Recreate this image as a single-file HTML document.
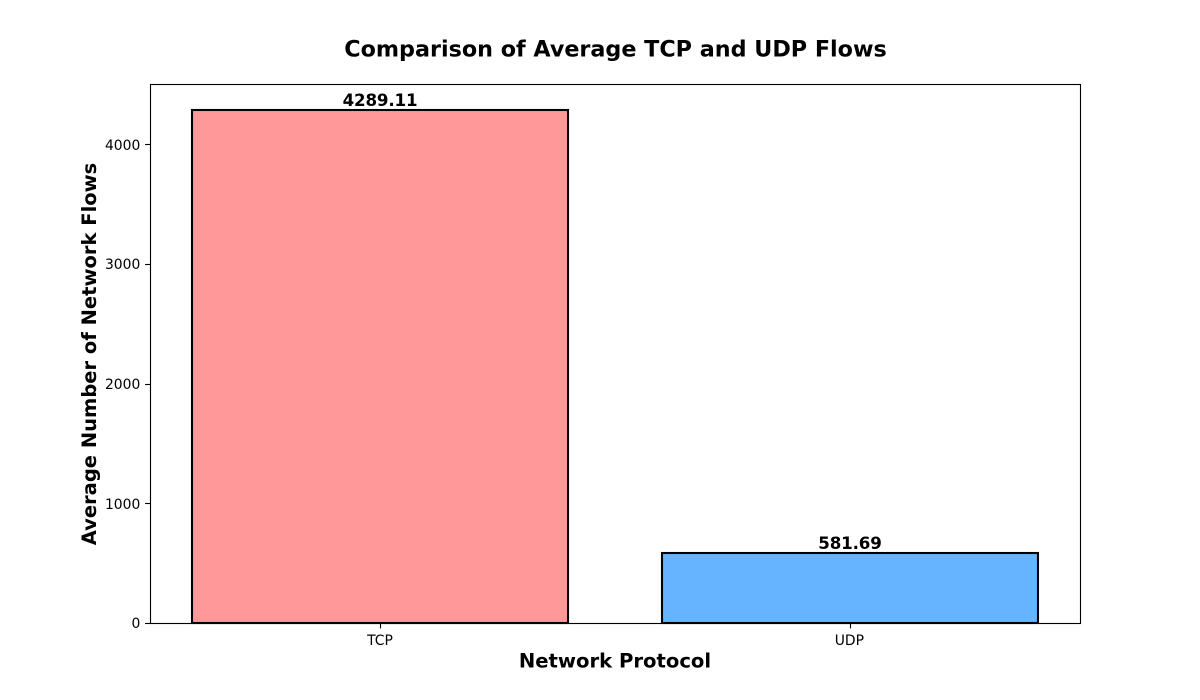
<!DOCTYPE html>
<html>
<head>
<meta charset="utf-8">
<style>
html,body{margin:0;padding:0;background:#fff;}
svg{display:block;}
text{font-family:"DejaVu Sans","Liberation Sans",sans-serif;fill:#000;}
</style>
</head>
<body>
<svg id="chart" width="1200" height="700" viewBox="0 0 1200 700" xmlns="http://www.w3.org/2000/svg"></svg>
<script>
const categories = ["TCP", "UDP"];
const flowValues = [4289.11, 581.69];
const barColors = ["#ff9999", "#66b3ff"];
const yTickLabels = [0, 1000, 2000, 3000, 4000];

const NS = "http://www.w3.org/2000/svg";
const svg = document.getElementById("chart");
const plot = {left: 150, right: 1080, top: 84, bottom: 623};
const yMax = 4503.57;
const xMin = -0.4894, xMax = 1.4894, barWidth = 0.8;

function xScale(v){ return plot.left + (v - xMin) / (xMax - xMin) * (plot.right - plot.left); }
function yScale(v){ return plot.bottom - v / yMax * (plot.bottom - plot.top); }
function snap(p){ return Math.round(p) + 0.5; }
function add(tag, attrs, text){
  const el = document.createElementNS(NS, tag);
  for (const k in attrs) el.setAttribute(k, attrs[k]);
  if (text !== undefined) el.textContent = text;
  svg.appendChild(el);
  return el;
}

const bg = add("rect", {x: 0, y: 0, width: 1200, height: 700, fill: "#fff"});



categories.forEach((c, i) => {
  const x0 = xScale(i - barWidth / 2), x1 = xScale(i + barWidth / 2);
  const y0 = Math.round(yScale(flowValues[i]));
  const bar = add("rect", {x: x0, y: y0, width: x1 - x0, height: plot.bottom - y0, fill: barColors[i], stroke: "#000", "stroke-width": 2.08});
  
  

  const val = add("text", {x: xScale(i), y: y0 - 4, "text-anchor": "middle", "font-size": 16.67, "font-weight": "bold", "letter-spacing": -0.15}, flowValues[i].toFixed(2));
  
  

  const tx = snap(xScale(i));
  const tick = add("line", {x1: tx, x2: tx, y1: plot.bottom, y2: plot.bottom + 5.4, stroke: "#000", "stroke-width": 1.11});
  
  

  const lab = add("text", {x: xScale(i) - (i ? 0.6 : 0), y: 645, "text-anchor": "middle", "font-size": 13.89}, c);
  
  
});

yTickLabels.forEach(v => {
  const y = snap(yScale(v));
  const tick = add("line", {x1: plot.left - 4.9, x2: plot.left, y1: y, y2: y, stroke: "#000", "stroke-width": 1.11});
  
  

  const lab = add("text", {x: plot.left - 9.7, y: Math.ceil(yScale(v) + 5), "text-anchor": "end", "font-size": 13.89}, String(v));
  
  
});

const frame = add("rect", {x: plot.left + 0.5, y: plot.top + 0.5, width: plot.right - plot.left, height: plot.bottom - plot.top, fill: "none", stroke: "#000", "stroke-width": 1.11});



const title = add("text", {x: 615.5, y: 56.5, "text-anchor": "middle", "font-size": 22.26, "font-weight": "bold"}, "Comparison of Average TCP and UDP Flows");



const xTitle = add("text", {x: 615, y: 667.5, "text-anchor": "middle", "font-size": 19.6, "font-weight": "bold"}, "Network Protocol");



const yTitle = add("text", {x: 96, y: 354, "text-anchor": "middle", "font-size": 19.5, "font-weight": "bold", transform: "rotate(-90 96 354)"}, "Average Number of Network Flows");


</script>
</body>
</html>
